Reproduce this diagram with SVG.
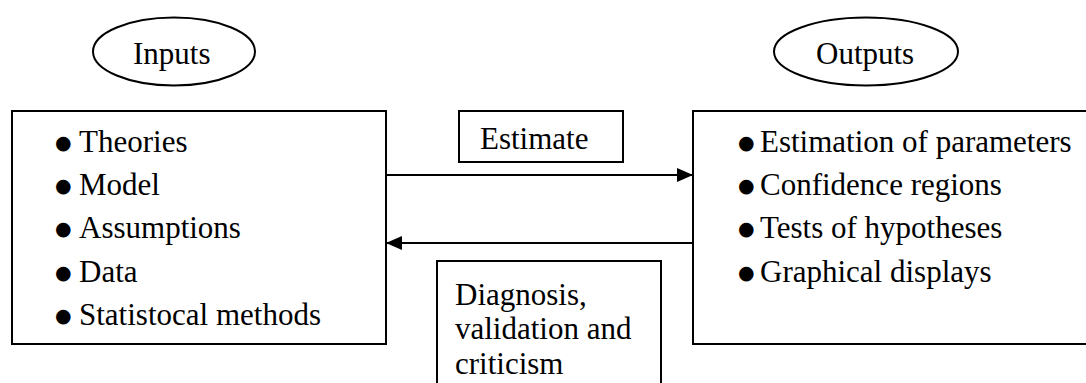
<svg xmlns="http://www.w3.org/2000/svg" width="1086" height="383" viewBox="0 0 1086 383">
<style>
.s{fill:none;stroke:#000;stroke-width:2}
.t{font-family:"Liberation Serif","Times New Roman",serif;font-size:31px;fill:#000}
.b{font-family:"DejaVu Sans",sans-serif;font-size:19px}
</style>
<defs>
<marker id="ah" markerWidth="16" markerHeight="14" refX="15" refY="7" orient="auto" markerUnits="userSpaceOnUse">
<path d="M0,0 L16,7 L0,14 Z" fill="#000"/>
</marker>
</defs>
<rect width="1086" height="383" fill="#fff"/>
<g id="inputs-label">
<ellipse class="s" cx="174" cy="51.5" rx="81" ry="34"/>
<text class="t" x="133" y="64">Inputs</text>
</g>
<g id="outputs-label">
<ellipse class="s" cx="866" cy="51.5" rx="92" ry="34"/>
<text class="t" x="816" y="64">Outputs</text>
</g>
<g id="inputs">
<rect class="s" x="12" y="111" width="374" height="233"/>
<text class="t"><tspan class="b" x="55" y="149">●</tspan><tspan x="79" y="152">Theories</tspan></text>
<text class="t"><tspan class="b" x="55" y="192">●</tspan><tspan x="79" y="195">Model</tspan></text>
<text class="t"><tspan class="b" x="55" y="235">●</tspan><tspan x="79" y="238">Assumptions</tspan></text>
<text class="t"><tspan class="b" x="55" y="279">●</tspan><tspan x="79" y="282">Data</tspan></text>
<text class="t"><tspan class="b" x="55" y="322">●</tspan><tspan x="79" y="325">Statistocal methods</tspan></text>
</g>
<g id="outputs">
<rect class="s" x="693" y="111" width="400" height="233"/>
<text class="t"><tspan class="b" x="738" y="149">●</tspan><tspan x="760" y="152">Estimation of parameters</tspan></text>
<text class="t"><tspan class="b" x="738" y="192">●</tspan><tspan x="760" y="195">Confidence regions</tspan></text>
<text class="t"><tspan class="b" x="738" y="235">●</tspan><tspan x="760" y="238">Tests of hypotheses</tspan></text>
<text class="t"><tspan class="b" x="738" y="279">●</tspan><tspan x="760" y="282">Graphical displays</tspan></text>
</g>
<g id="estimate">
<rect class="s" x="459" y="111" width="164" height="51"/>
<text class="t" x="480" y="149">Estimate</text>
</g>
<g id="diagnosis">
<rect class="s" x="437" y="261" width="224" height="140"/>
<text class="t" x="455" y="305">Diagnosis,</text>
<text class="t" x="455" y="339">validation and</text>
<text class="t" x="455" y="374">criticism</text>
</g>
<g id="connectors">
<line class="s" x1="386" y1="175" x2="692" y2="175" marker-end="url(#ah)"/>
<line class="s" x1="692" y1="243" x2="387" y2="243" marker-end="url(#ah)"/>
</g>
</svg>
